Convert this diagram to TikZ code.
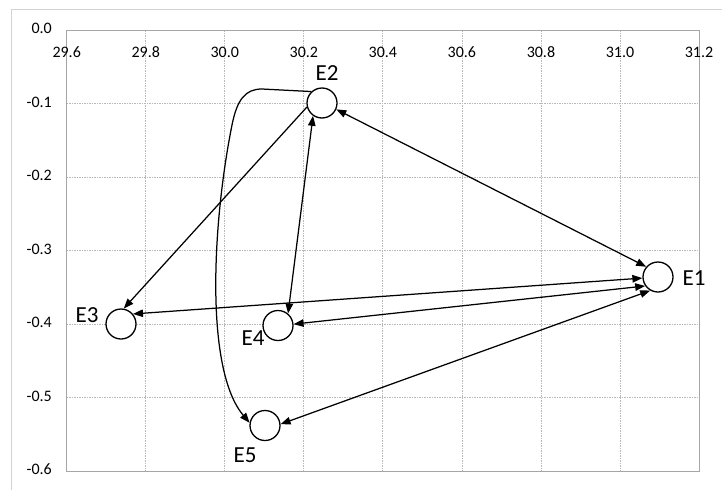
\documentclass[tikz,border=0pt]{standalone}
\usepackage{fontspec}
\setmainfont{Carlito}
\usetikzlibrary{arrows.meta}

\begin{document}
\begin{tikzpicture}[
  x=1pt, y=-1pt,
  >={Triangle[length=10pt,width=7.5pt]},
  evnode/.style   = {draw, circle, line width=1.3pt, minimum size=30pt, inner sep=0pt, fill=white},
  lab/.style      = {font=\fontsize{23}{23}\selectfont, inner sep=0pt},
  ticklab/.style  = {font=\fontsize{16}{16}\selectfont, inner sep=0pt},
  gridline/.style = {gray!55, line width=0.8pt, dash pattern=on 1.5pt off 1pt},
  link/.style     = {line width=1.25pt},
]
  \useasboundingbox (0,0) rectangle (722,490);

  % chart frame and plot area
  \draw[gray!35, line width=0.8pt] (11.5,490) -- (11.5,9) -- (722,9);
  \foreach \i in {1,...,7}
    \draw[gridline] ({66.7+79.04*\i},30) -- ({66.7+79.04*\i},471);
  \foreach \j in {1,...,5}
    \draw[gridline] (66.7,{30+73.5*\j}) -- (699,{30+73.5*\j});
  \draw[gray!70, line width=1pt] (66.7,30) rectangle (699,471);

  \foreach \v [count=\i from 0] in {29.6,29.8,30.0,30.2,30.4,30.6,30.8,31.0,31.2}
    \node[ticklab] (xl\i) at ({66.7+79.04*\i},52) {\v};
  \foreach \v [count=\j from 0] in {0.0,-0.1,-0.2,-0.3,-0.4,-0.5,-0.6}
    \node[ticklab, anchor=east] (yl\j) at (52,{28.5+73.5*\j}) {\v};

  % events
  \node[evnode] (E1) at (658,277)   {};
  \node[evnode] (E2) at (322,103)   {};
  \node[evnode] (E3) at (121,324)   {};
  \node[evnode] (E4) at (278,325.5) {};
  \node[evnode] (E5) at (265,425.5) {};

  \node[lab] (E1l) at (694,278) {E1};
  \node[lab] (E2l) at (327,73)  {E2};
  \node[lab] (E3l) at (87,315)  {E3};
  \node[lab] (E4l) at (253,338) {E4};
  \node[lab] (E5l) at (245,455) {E5};

  % links
  \draw[link, <->] (E2.336) -- (E1.139);
  \draw[link, ->]  (E2.195) -- (E3.80);
  \draw[link, <->] (E3.40)  -- (E1.184);
  \draw[link, <->] (E4.5)   -- (E1.215);
  \draw[link, <->] (E5.5)   -- (E1.240);
  \draw[link, <->] (E2.235) -- (E4.50);

  \coordinate (bend) at (262,89);
  \draw[link, ->] (E2.133) -- (bend) .. controls (245,89) and (237,100) .. (232,125)
      .. controls (212,225) and (205,370) .. (E5.170);
\end{tikzpicture}
\end{document}
